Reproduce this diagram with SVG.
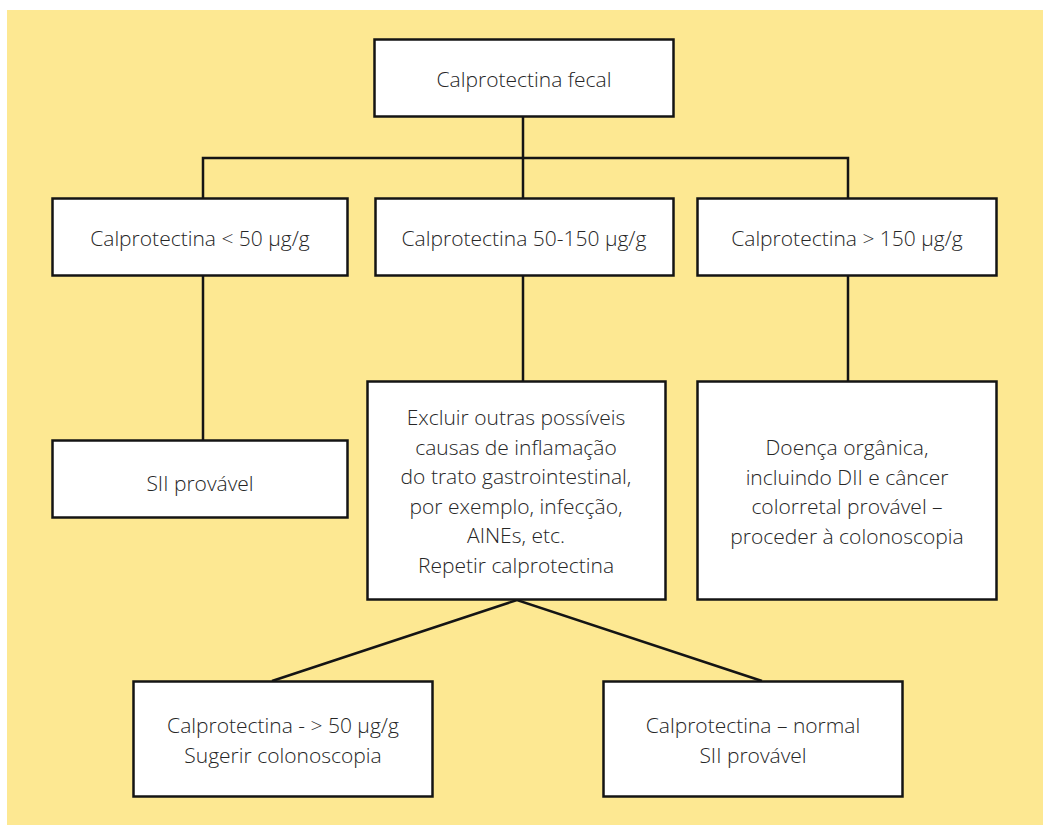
<svg xmlns="http://www.w3.org/2000/svg" width="1043" height="825" viewBox="0 0 1043 825">
<style>
.box{fill:#ffffff;stroke:#141414;stroke-width:2.5}
.t{font-family:"Open Sans","Noto Sans",sans-serif;font-weight:300;font-size:21px;fill:#262626;text-anchor:middle}
.c{fill:none;stroke:#141414;stroke-width:2.5}
</style>
<rect x="0" y="0" width="1043" height="825" fill="#ffffff"/>
<rect x="7" y="10" width="1036" height="815" fill="#FDE892"/>
<g id="connectors">
<line class="c" x1="523" y1="117" x2="523" y2="198"/>
<polyline class="c" points="203,198 203,158 848,158 848,198"/>
<line class="c" x1="203" y1="276" x2="203" y2="440"/>
<line class="c" x1="523" y1="276" x2="523" y2="381"/>
<line class="c" x1="848" y1="276" x2="848" y2="381"/>
<polyline class="c" points="272,681 517,600 762,681"/>
</g>
<g id="n-root">
<rect class="box" x="374.5" y="39.5" width="299" height="77"/>
<text class="t" x="524" y="87">Calprotectina fecal</text>
</g>
<g id="n-low">
<rect class="box" x="52.5" y="198.5" width="295" height="77"/>
<text class="t" x="200" y="246">Calprotectina &lt; 50 µg/g</text>
</g>
<g id="n-mid">
<rect class="box" x="375.5" y="198.5" width="298" height="77"/>
<text class="t" x="524" y="246">Calprotectina 50-150 µg/g</text>
</g>
<g id="n-high">
<rect class="box" x="697.5" y="198.5" width="299" height="77"/>
<text class="t" x="847" y="246">Calprotectina &gt; 150 µg/g</text>
</g>
<g id="n-sii">
<rect class="box" x="52.5" y="440.5" width="295" height="77"/>
<text class="t" x="200" y="491">SII provável</text>
</g>
<g id="n-excluir">
<rect class="box" x="367.5" y="381.5" width="298" height="218"/>
<text class="t" x="516" y="425">Excluir outras possíveis</text>
<text class="t" x="516" y="454.5">causas de inflamação</text>
<text class="t" x="516" y="484">do trato gastrointestinal,</text>
<text class="t" x="516" y="513.5">por exemplo, infecção,</text>
<text class="t" x="516" y="543">AINEs, etc.</text>
<text class="t" x="516" y="572.5">Repetir calprotectina</text>
</g>
<g id="n-organica">
<rect class="box" x="697.5" y="381.5" width="299" height="218"/>
<text class="t" x="847" y="455">Doença orgânica,</text>
<text class="t" x="847" y="484.5">incluindo DII e câncer</text>
<text class="t" x="847" y="514">colorretal provável –</text>
<text class="t" x="847" y="543.5">proceder à colonoscopia</text>
</g>
<g id="n-alta">
<rect class="box" x="133.5" y="681.5" width="299" height="115"/>
<text class="t" x="283" y="733">Calprotectina - &gt; 50 µg/g</text>
<text class="t" x="283" y="763">Sugerir colonoscopia</text>
</g>
<g id="n-normal">
<rect class="box" x="603.5" y="681.5" width="299" height="115"/>
<text class="t" x="753" y="733">Calprotectina – normal</text>
<text class="t" x="753" y="763">SII provável</text>
</g>
</svg>
